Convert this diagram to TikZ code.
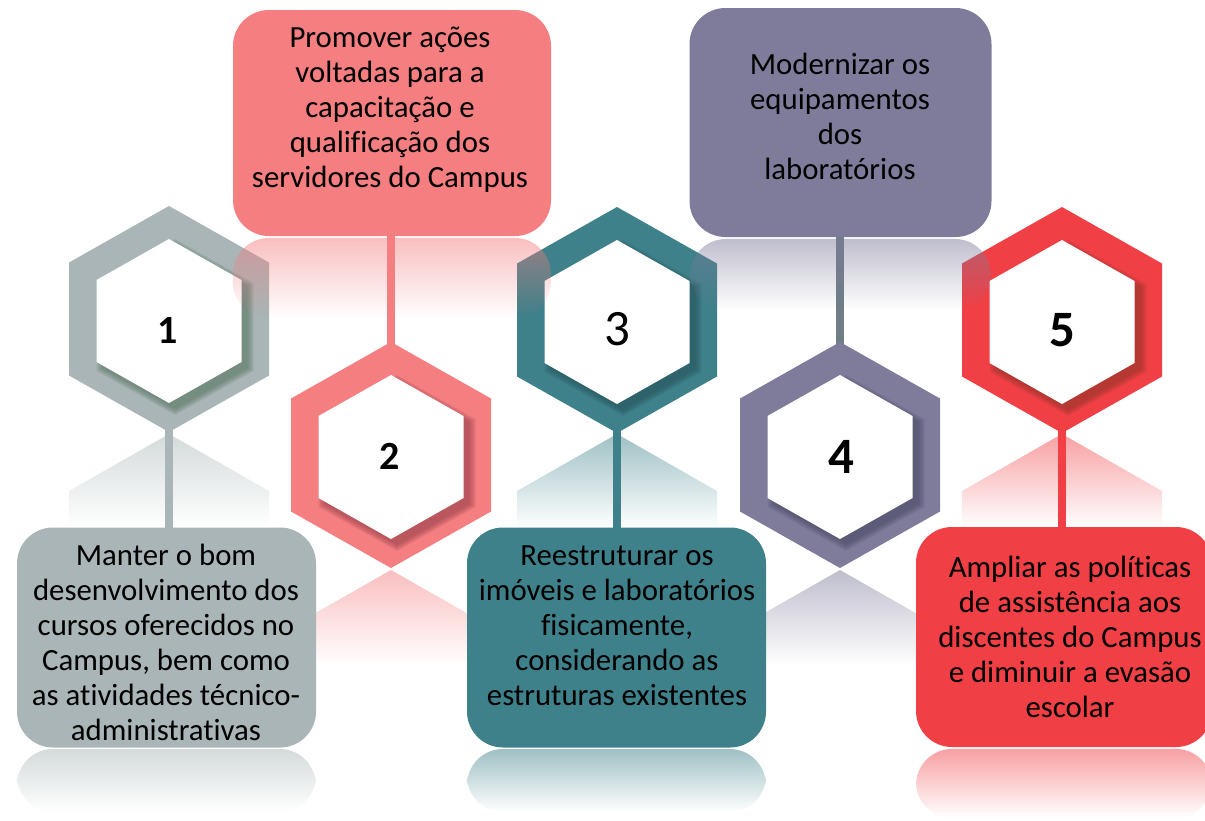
\documentclass[tikz,border=0pt]{standalone}
\usepackage{fontspec}
\setmainfont{Carlito}[Ligatures=NoCommon]
\usetikzlibrary{fadings}
\definecolor{cA}{HTML}{A9B5B6}
\definecolor{cB}{HTML}{F47E80}
\definecolor{cC}{HTML}{3E818A}
\definecolor{cD}{HTML}{7F7C9B}
\definecolor{cE}{HTML}{F04045}
\definecolor{cDl}{HTML}{6F7D87}
\definecolor{sA}{HTML}{4F6E58}
\definecolor{sB}{HTML}{8E3B47}
\definecolor{sC}{HTML}{244E56}
\definecolor{sD}{HTML}{454560}
\definecolor{sE}{HTML}{8A3428}
\tikzfading[name=refl, top color=transparent!50, bottom color=transparent!100]
\newcommand\hexshape[4]{({#1},{#2-(#4)}) -- ({#1+(#3)},{#2-(#4)/2}) -- ({#1+(#3)},{#2+(#4)/2}) -- ({#1},{#2+(#4)}) -- ({#1-(#3)},{#2+(#4)/2}) -- ({#1-(#3)},{#2-(#4)/2}) -- cycle}
\newcommand\hexring[4]{% cx, cy, colour, shadow colour
  \fill[#3] \hexshape{#1}{#2}{100}{113};
  \foreach \s in {0,3,6,9,12}{\fill[#4, opacity=0.15] \hexshape{#1+6}{#2+8}{72.5+\s/2}{82+\s/2};}
  \fill[white] \hexshape{#1}{#2+2}{72.5}{82};}
\begin{document}
\begin{tikzpicture}[x=1pt,y=-1pt,
  box/.style={rounded corners=36pt, inner sep=0pt, outer sep=0pt, minimum width=299pt, minimum height=220pt},
  txt/.style={font=\fontsize{30.8}{35}\selectfont, align=center, inner sep=0pt, text=black},
  num/.style={font=\fontsize{40}{40}\selectfont\bfseries, inner sep=0pt},
  bignum/.style={font=\fontsize{51}{51}\selectfont\bfseries, inner sep=0pt},
  conn/.style={line width=8pt},
  reflect/.style={path fading=refl}]
\useasboundingbox (0,0) rectangle (1205,820);

% hexagon anchor coordinates
\coordinate (h1) at (169,319);
\coordinate (h2) at (391,455);
\coordinate (h3) at (617,320);
\coordinate (h4) at (840,455);
\coordinate (h5) at (1062,320);
\coordinate (h1s) at (169,430);
\coordinate (h2n) at (391,345);
\coordinate (h3s) at (617,430);
\coordinate (h4n) at (840,345);
\coordinate (h5s) at (1062,430);

% reflections of hexagons
\fill[cA, reflect] (169,434) -- (269,491) -- (269,528) -- (69,528) -- (69,491) -- cycle;
\fill[cB, reflect] (391,570) -- (491,627) -- (491,665) -- (291,665) -- (291,627) -- cycle;
\fill[cC, reflect] (617,434) -- (717,491) -- (717,528) -- (517,528) -- (517,491) -- cycle;
\fill[cD, reflect] (840,570) -- (940,627) -- (940,665) -- (740,665) -- (740,627) -- cycle;
\fill[cE, reflect] (1062,434) -- (1162,491) -- (1162,528) -- (962,528) -- (962,491) -- cycle;

% boxes (nodes)
\node[box, fill=cA] (b1) at (166.5,637.5) {};
\node[box, fill=cB, minimum width=318pt, minimum height=226pt] (b2) at (392,123) {};
\node[box, fill=cC] (b3) at (616.5,637.5) {};
\node[box, fill=cD, minimum width=302pt, minimum height=229pt] (b4) at (840.5,122.5) {};
\node[box, fill=cE, minimum width=296pt] (b5) at (1064,637) {};

% connectors
\draw[conn, cA] (h1s) -- (h1s |- b1.north);
\draw[conn, cB] (h2n |- b2.south) -- (h2n);
\draw[conn, cC] (h3s) -- (h3s |- b3.north);
\draw[conn, cDl] (h4n |- b4.south) -- (h4n);
\draw[conn, cE] (h5s) -- (h5s |- b5.north);

% hexagons
\hexring{169}{319}{cA}{sA}
\hexring{391}{455}{cB}{sB}
\hexring{617}{320}{cC}{sC}
\hexring{840}{455}{cD}{sD}
\hexring{1062}{320}{cE}{sE}

% reflections of boxes
\fill[cA, reflect, rounded corners=36pt] (17,749) rectangle (316,812);
\fill[cB, reflect, rounded corners=36pt] (233,238) rectangle (551,318);
\fill[cC, reflect, rounded corners=36pt] (467,749) rectangle (766,812);
\fill[cD, reflect, rounded corners=36pt] (690,239) rectangle (991,310);
\fill[cE, reflect, rounded corners=36pt] (916,749) rectangle (1212,818);

% numbers
\node[num] (n1) at (167.5,331) {1};
\node[num] (n2) at (390,456) {2};
\node[bignum, font=\fontsize{51}{51}\selectfont\mdseries] (n3) at (617,329) {3};
\node[bignum] (n4) at (841,457) {4};
\node[bignum] (n5) at (1062,330.5) {5};

% texts
\node[txt] (t1) at (166,642) {Manter o bom\\desenvolvimento dos\\cursos oferecidos no\\Campus, bem como\\as atividades técnico-\\administrativas};
\node[txt] (t2) at (390,110) {Promover ações\\voltadas para a\\capacitação e\\qualificação dos\\servidores do Campus};
\node[txt] (t3) at (617,626) {Reestruturar os\\imóveis e laboratórios\\fisicamente,\\considerando as\\estruturas existentes};
\node[txt] (t4) at (840,116) {Modernizar os\\equipamentos\\dos\\laboratórios};
\node[txt] (t5) at (1070,637) {Ampliar as políticas\\de assistência aos\\discentes do Campus\\e diminuir a evasão\\escolar};
\end{tikzpicture}
\end{document}
